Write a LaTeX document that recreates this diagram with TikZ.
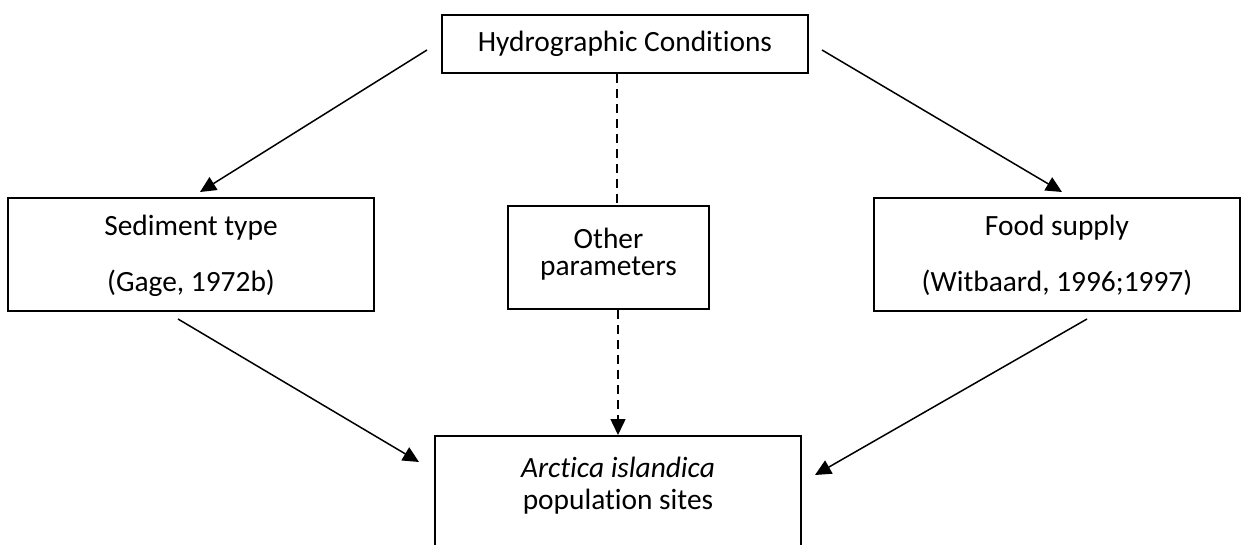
\documentclass[tikz,border=0pt]{standalone}
\usepackage{fontspec}
\setmainfont{Carlito}[RawFeature={-liga;-clig;-calt;-dlig}]
\usetikzlibrary{arrows.meta}
\begin{document}
\begin{tikzpicture}[x=0.5pt,y=-0.5pt,
  box/.style={draw,line width=1pt,minimum width=#1,inner sep=0pt},
  lbl/.style={font=\fontsize{14.7}{17}\selectfont,inner sep=0pt},
  tip/.style={-{Triangle[length=8pt,width=7.5pt]}},
  arr/.style={line width=0.75pt,tip},
  dsh/.style={line width=0.75pt,dash pattern=on 4.5pt off 3pt}]
\useasboundingbox (0,0) rectangle (1241,545);
\begin{scope}
\clip (0,0) rectangle (1241,545);
\node[box=183pt,minimum height=29pt] (hyd) at (625,44) {};
\node[box=183pt,minimum height=56.5pt] (sed) at (191,254.5) {};
\node[box=183pt,minimum height=56.5pt] (food) at (1057,254.5) {};
\node[box=100.5pt,minimum height=51.5pt] (oth) at (608.5,257.5) {};
\node[box=183pt,minimum height=70pt] (arc) at (618,506) {};
\end{scope}
\node[lbl] (thyd) at (625,44) {Hydrographic Condit\kern0pt ions};
\node[lbl] (tsed1) at (191,228) {Sediment type};
\node[lbl] (tsed2) at (191,283) {(Gage, 1972b)};
\node[lbl] (tfood1) at (1057,228) {Food supply};
\node[lbl] (tfood2) at (1057,283) {(Witbaard, 1996;1997)};
\node[lbl] (toth1) at (608.5,238) {Other};
\node[lbl] (toth2) at (608.5,269) {parameters};
\node[lbl] (tarc1) at (618,467) {\itshape Arctica islandica};
\node[lbl] (tarc2) at (618,502) {populat\kern0pt ion sites};
\coordinate (h1) at (427,50);
\coordinate (h2) at (822,50);
\coordinate (s1) at (200,192);
\coordinate (f1) at (1062,192);
\coordinate (s2) at (178,319);
\coordinate (f2) at (1087,319);
\coordinate (a1) at (419,462);
\coordinate (a2) at (815,475);
\draw[arr] (h1) -- (s1);
\draw[arr] (h2) -- (f1);
\draw[arr] (s2) -- (a1);
\draw[arr] (f2) -- (a2);
\draw[dsh] (hyd.south -| 617,0) -- (oth.north -| 617,0);
\draw[dsh,tip] (oth.south -| 618,0) -- (arc.north -| 618,0);
\end{tikzpicture}
\end{document}
